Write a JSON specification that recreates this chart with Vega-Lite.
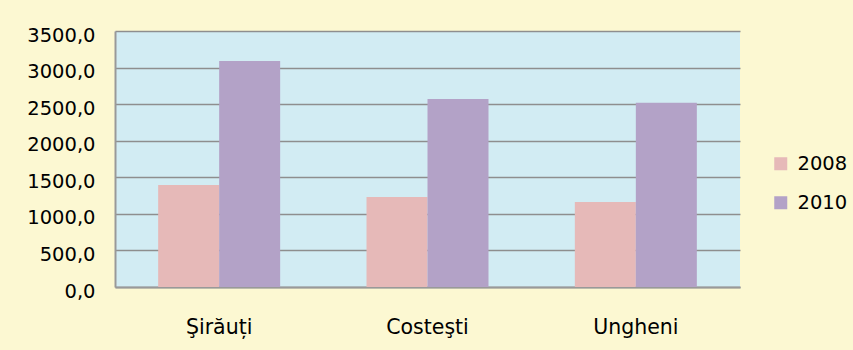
{
  "$schema": "https://vega.github.io/schema/vega-lite/v6.json",
  "autosize": "none",
  "width": 625,
  "height": 256,
  "padding": {"left": 115, "top": 31, "right": 113, "bottom": 63},
  "background": "#FCF8D2",
  "data": {
    "values": [
      {"locality": "Şirăuți", "year": "2008", "value": 1395},
      {"locality": "Şirăuți", "year": "2010", "value": 3090},
      {"locality": "Costeşti", "year": "2008", "value": 1230},
      {"locality": "Costeşti", "year": "2010", "value": 2572},
      {"locality": "Ungheni", "year": "2008", "value": 1162},
      {"locality": "Ungheni", "year": "2010", "value": 2518}
    ]
  },
  "mark": {"type": "bar"},
  "encoding": {
    "x": {
      "field": "locality",
      "type": "nominal",
      "sort": ["Şirăuți", "Costeşti", "Ungheni"],
      "scale": {"paddingInner": 0.4144, "paddingOuter": 0.2072},
      "axis": {
        "title": null,
        "labelAngle": 0,
        "ticks": false,
        "tickSize": 0,
        "labelPadding": 30,
        "labelFontSize": 20.5,
        "domain": true,
        "domainColor": "#999999",
        "domainWidth": 2,
        "grid": false
      }
    },
    "xOffset": {
      "field": "year",
      "type": "nominal",
      "scale": {"paddingInner": 0, "paddingOuter": 0}
    },
    "y": {
      "field": "value",
      "type": "quantitative",
      "scale": {"domain": [0, 3500], "nice": false},
      "axis": {
        "title": null,
        "values": [0, 500, 1000, 1500, 2000, 2500, 3000, 3500],
        "labelExpr": "replace(format(datum.value, '.1f'), '.', ',')",
        "ticks": false,
        "tickSize": 0,
        "labelPadding": 20,
        "labelOffset": 4,
        "labelFontSize": 19.5,
        "domain": true,
        "domainColor": "#999999",
        "domainWidth": 2,
        "grid": true,
        "gridColor": "#8E8E8E",
        "gridWidth": 1.5
      }
    },
    "color": {
      "field": "year",
      "type": "nominal",
      "scale": {"domain": ["2008", "2010"], "range": ["#E6B9B8", "#B3A2C7"]},
      "legend": {
        "title": null,
        "orient": "none",
        "legendX": 656,
        "legendY": 123,
        "padding": 0,
        "symbolType": "square",
        "symbolSize": 169,
        "symbolStrokeWidth": 0,
        "labelOffset": 7,
        "rowPadding": 18,
        "labelFontSize": 19.5,
        "labelFont": "DejaVu Sans",
        "labelColor": "#000000"
      }
    }
  },
  "config": {
    "view": {"fill": "#D2ECF3", "stroke": null},
    "axis": {
      "labelFont": "DejaVu Sans",
      "labelColor": "#000000"
    }
  }
}
